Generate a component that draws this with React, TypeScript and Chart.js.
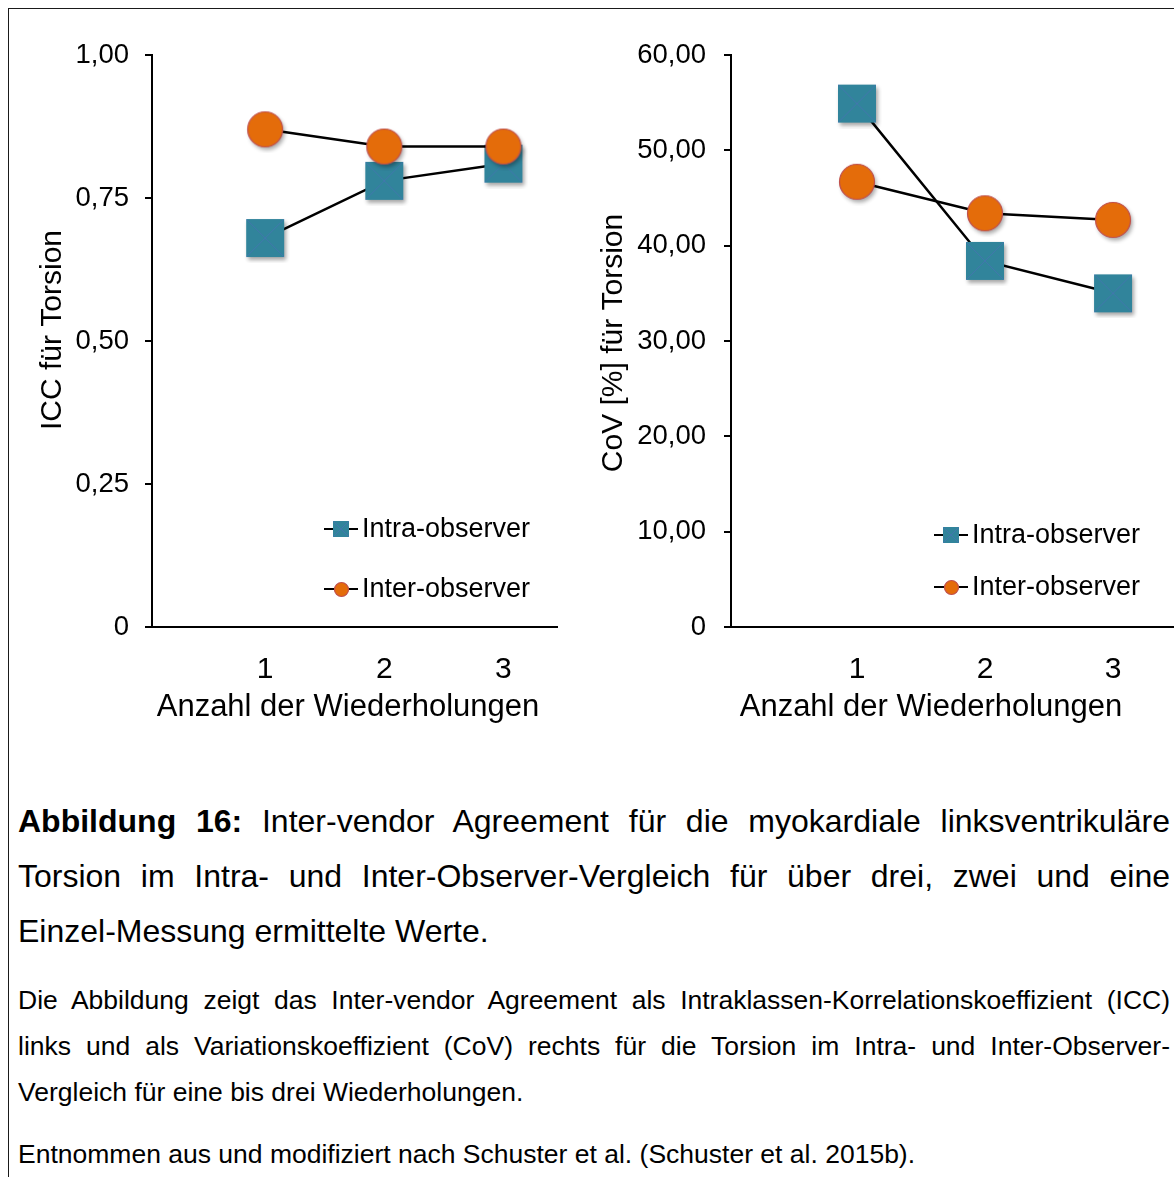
import React, { useEffect, useRef } from 'react';
import { Chart, registerables } from 'chart.js';

Chart.register(...registerables);

// ---------- data ----------
const xValues = [1, 2, 3];
const xTickLabels = ['1', '2', '3'];
const seriesLabels = ['Intra-observer', 'Inter-observer'];
const iccIntra = [0.68, 0.78, 0.81];
const iccInter = [0.87, 0.84, 0.84];
const covIntra = [54.9, 38.4, 35.0];
const covInter = [46.7, 43.4, 42.7];
const iccTicks = [0, 0.25, 0.5, 0.75, 1];
const covTicks = [0, 10, 20, 30, 40, 50, 60];
const iccTitle = 'ICC für Torsion';
const covTitle = 'CoV [%] für Torsion';
const xTitle = 'Anzahl der Wiederholungen';

const FONT = "'Liberation Sans', Arial, Helvetica, sans-serif";
const TEAL = '#31849B';
const ORANGE = '#E46C0A';

function makeSquare(side: number, shadow: boolean): HTMLCanvasElement {
  const pad = shadow ? 6 : 1;
  const c = document.createElement('canvas');
  c.width = side + pad * 2;
  c.height = side + pad * 2;
  const ctx = c.getContext('2d')!;
  const x0 = pad, y0 = pad;
  ctx.save();
  if (shadow) {
    ctx.shadowColor = 'rgba(0,0,0,0.35)';
    ctx.shadowBlur = 4;
    ctx.shadowOffsetX = 2;
    ctx.shadowOffsetY = 3;
  }
  ctx.fillStyle = TEAL;
  ctx.fillRect(x0, y0, side, side);
  ctx.restore();
  ctx.strokeStyle = 'rgba(79,110,190,0.55)';
  ctx.lineWidth = 1;
  ctx.beginPath();
  ctx.moveTo(x0, y0); ctx.lineTo(x0 + side, y0 + side);
  ctx.moveTo(x0 + side, y0); ctx.lineTo(x0, y0 + side);
  ctx.stroke();
  return c;
}

function makeCircle(d: number, shadow: boolean): HTMLCanvasElement {
  const pad = shadow ? 6 : 1;
  const c = document.createElement('canvas');
  c.width = d + pad * 2;
  c.height = d + pad * 2;
  const ctx = c.getContext('2d')!;
  const cx = c.width / 2, cy = c.height / 2;
  ctx.save();
  if (shadow) {
    ctx.shadowColor = 'rgba(0,0,0,0.35)';
    ctx.shadowBlur = 4;
    ctx.shadowOffsetX = 2;
    ctx.shadowOffsetY = 3;
  }
  ctx.beginPath();
  ctx.arc(cx, cy, d / 2 - 0.5, 0, Math.PI * 2);
  ctx.fillStyle = ORANGE;
  ctx.fill();
  ctx.restore();
  ctx.beginPath();
  ctx.arc(cx, cy, d / 2 - 0.5, 0, Math.PI * 2);
  ctx.strokeStyle = '#C0504D';
  ctx.lineWidth = 1.2;
  ctx.stroke();
  return c;
}

// legend inside the plot area + axis titles placed like the original figure
const insideLegend = {
  id: 'insideLegend',
  afterDatasetsDraw(chart: any, _args: any, opts: any) {
    const ctx = chart.ctx as CanvasRenderingContext2D;
    ctx.save();
    (opts.items || []).forEach((it: any, i: number) => {
      const ds = chart.data.datasets[i];
      ctx.strokeStyle = '#000';
      ctx.lineWidth = 2;
      ctx.beginPath();
      ctx.moveTo(it.x - 17, it.y);
      ctx.lineTo(it.x + 17, it.y);
      ctx.stroke();
      const img = opts.markers[i];
      ctx.drawImage(img, Math.round(it.x - img.width / 2), Math.round(it.y - img.height / 2));
      ctx.fillStyle = '#000';
      ctx.font = `27px ${FONT}`;
      ctx.textBaseline = 'middle';
      ctx.textAlign = 'left';
      ctx.fillText(ds.label, it.x + 21, it.y + 1);
    });
    // axis titles
    ctx.fillStyle = '#000';
    ctx.textAlign = 'center';
    ctx.textBaseline = 'middle';
    ctx.font = `31px ${FONT}`;
    ctx.fillText(opts.xTitle.text, opts.xTitle.x, opts.xTitle.y);
    ctx.save();
    ctx.translate(opts.yTitle.x, opts.yTitle.y);
    ctx.rotate(-Math.PI / 2);
    ctx.font = `30px ${FONT}`;
    ctx.fillText(opts.yTitle.text, 0, 0);
    ctx.restore();
    ctx.restore();
  },
};

function fmt(v: number): string {
  return v === 0 ? '0' : v.toFixed(2).replace('.', ',');
}

function buildConfig(p: any): any {
  const bigSquare = makeSquare(38, true);
  const bigCircle = makeCircle(36, true);
  const smallSquare = makeSquare(16, false);
  const smallCircle = makeCircle(15, false);
  return {
    type: 'line',
    data: {
      datasets: [
        {
          label: seriesLabels[0],
          data: xValues.map((x, i) => ({ x, y: p.intra[i] })),
          borderColor: '#000',
          borderWidth: 2.5,
          pointStyle: bigSquare,
          pointRadius: 19,
          fill: false,
          tension: 0,
          order: 2,
        },
        {
          label: seriesLabels[1],
          data: xValues.map((x, i) => ({ x, y: p.inter[i] })),
          borderColor: '#000',
          borderWidth: 2.5,
          pointStyle: bigCircle,
          pointRadius: 18,
          fill: false,
          tension: 0,
          order: 1,
        },
      ],
    },
    options: {
      responsive: false,
      animation: false,
      clip: false,
      layout: { padding: p.padding },
      plugins: {
        legend: { display: false },
        tooltip: { enabled: false },
        insideLegend: {
          items: p.legendItems,
          markers: [smallSquare, smallCircle],
          xTitle: p.xTitlePos,
          yTitle: p.yTitlePos,
        },
      },
      scales: {
        x: {
          type: 'linear',
          min: p.xMin,
          max: p.xMax,
          afterBuildTicks: (s: any) => {
            s.ticks = xValues.map((v) => ({ value: v }));
          },
          afterFit: (s: any) => {
            s.height = 100;
            s.paddingLeft = 0;
            s.paddingRight = 0;
          },
          grid: { display: false, drawTicks: false },
          border: { display: true, color: '#000', width: 2 },
          ticks: {
            color: '#000',
            padding: 25,
            font: { family: FONT, size: 30 },
            callback: (v: number) => xTickLabels[xValues.indexOf(v)] ?? '',
            maxRotation: 0,
          },
          title: { display: false },
        },
        y: {
          type: 'linear',
          min: p.yTicks[0],
          max: p.yTicks[p.yTicks.length - 1],
          afterBuildTicks: (s: any) => {
            s.ticks = p.yTicks.map((v: number) => ({ value: v }));
          },
          afterFit: (s: any) => {
            s.width = p.yWidth;
          },
          grid: {
            display: true,
            drawOnChartArea: false,
            drawTicks: true,
            tickLength: 7,
            color: '#000',
            lineWidth: 2,
          },
          border: { display: true, color: '#000', width: 2 },
          ticks: {
            color: '#000',
            padding: p.tickPad,
            font: { family: FONT, size: 27.5 },
            callback: (v: number) => fmt(v),
          },
          title: { display: false },
        },
      },
    },
    plugins: [insideLegend],
  };
}

const lineBase: React.CSSProperties = {
  position: 'absolute',
  left: 10,
  width: 1152,
  whiteSpace: 'normal',
  color: '#000',
};

export default function App() {
  const leftRef = useRef<HTMLCanvasElement>(null);
  const rightRef = useRef<HTMLCanvasElement>(null);

  useEffect(() => {
    document.documentElement.style.overflow = 'hidden';
    document.body.style.marginRight = '0px';
    Chart.defaults.font.family = FONT;
    Chart.defaults.color = '#000';
    const left = new Chart(
      leftRef.current!,
      buildConfig({
        intra: iccIntra,
        inter: iccInter,
        yTicks: iccTicks,
        xMin: 0.05,
        xMax: 3.45,
        padding: { left: 10, top: 47, right: 33, bottom: 33 },
        yWidth: 134,
        tickPad: 16,
        legendItems: [
          { x: 333, y: 521 },
          { x: 333, y: 581 },
        ],
        xTitlePos: { text: xTitle, x: 340, y: 699 },
        yTitlePos: { text: iccTitle, x: 45, y: 322 },
      })
    );
    const right = new Chart(
      rightRef.current!,
      buildConfig({
        intra: covIntra,
        inter: covInter,
        yTicks: covTicks,
        xMin: 0.016,
        xMax: 3.496,
        padding: { left: 0, top: 47, right: 0, bottom: 33 },
        yWidth: 141,
        tickPad: 18,
        legendItems: [
          { x: 361, y: 527 },
          { x: 361, y: 579 },
        ],
        xTitlePos: { text: xTitle, x: 341, y: 699 },
        yTitlePos: { text: covTitle, x: 24, y: 335 },
      })
    );
    return () => {
      left.destroy();
      right.destroy();
    };
  }, []);

  const j = (top: number, size: number, lh: number, justify: boolean, content: React.ReactNode) => (
    <div
      style={{
        ...lineBase,
        top,
        fontSize: size,
        lineHeight: lh + 'px',
        textAlign: justify ? 'justify' : 'left',
        textAlignLast: justify ? 'justify' : 'left',
      } as React.CSSProperties}
    >
      {content}
    </div>
  );

  return (
    <div
      style={{
        position: 'relative',
        width: 1166,
        height: 1169,
        overflow: 'hidden',
        fontFamily: FONT,
        background: '#fff',
      }}
    >
      <div
        style={{
          position: 'absolute',
          left: -1,
          top: -1,
          width: 1400,
          height: 1400,
          borderTop: '2px solid #1a1a1a',
          borderLeft: '2px solid #1a1a1a',
        }}
      />
      <canvas ref={leftRef} width={582} height={752} style={{ position: 'absolute', left: 0, top: 0 }} />
      <canvas ref={rightRef} width={608} height={752} style={{ position: 'absolute', left: 582, top: 0 }} />
      {j(785.5, 32, 55, true, (
        <>
          <b>Abbildung 16:</b> Inter-vendor Agreement für die myokardiale linksventrikuläre
        </>
      ))}
      {j(840.5, 32, 55, true, 'Torsion im Intra- und Inter-Observer-Vergleich für über drei, zwei und eine')}
      {j(895.5, 32, 55, false, 'Einzel-Messung ermittelte Werte.')}
      {j(969, 26.5, 46, true, 'Die Abbildung zeigt das Inter-vendor Agreement als Intraklassen-Korrelationskoeffizient (ICC)')}
      {j(1015, 26.5, 46, true, 'links und als Variationskoeffizient (CoV) rechts für die Torsion im Intra- und Inter-Observer-')}
      {j(1061, 26.5, 46, false, 'Vergleich für eine bis drei Wiederholungen.')}
      {j(1123, 26.5, 46, false, 'Entnommen aus und modifiziert nach Schuster et al. (Schuster et al. 2015b).')}
    </div>
  );
}
